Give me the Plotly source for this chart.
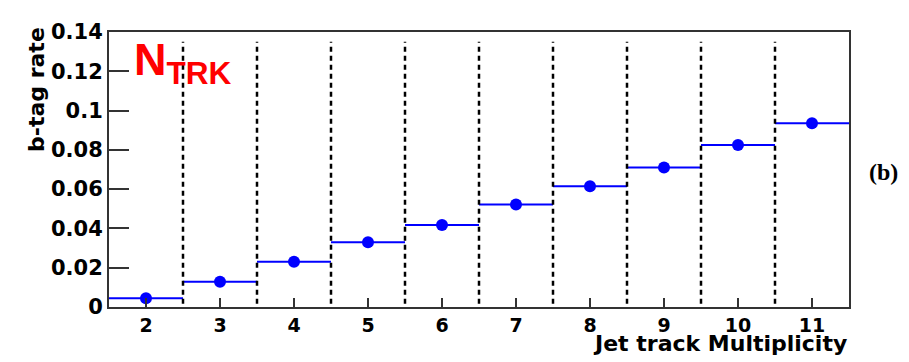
import plotly.graph_objects as go

# Data
multiplicity = [2, 3, 4, 5, 6, 7, 8, 9, 10, 11]
btag_rate = [0.0045, 0.0128, 0.0230, 0.0330, 0.0417, 0.0522, 0.0615, 0.0710, 0.0825, 0.0935]
bin_half_width = [0.5] * len(multiplicity)
y_tick_vals = [0, 0.02, 0.04, 0.06, 0.08, 0.1, 0.12, 0.14]
y_tick_text = ["0", "0.02", "0.04", "0.06", "0.08", "0.1", "0.12", "0.14"]
bin_edges = [m + 0.5 for m in multiplicity[:-1]]

fig = go.Figure()

fig.add_trace(go.Scatter(
    x=multiplicity, y=btag_rate, mode="markers",
    marker=dict(color="#0000ff", size=12),
    error_x=dict(type="data", array=bin_half_width, symmetric=True,
                 color="#0000ff", thickness=2, width=0),
    showlegend=False, hoverinfo="x+y",
))

for e in bin_edges:
    fig.add_shape(type="line", xref="x", yref="paper", x0=e, x1=e, y0=0.012, y1=0.965,
                  line=dict(color="black", width=2.5, dash="5px,4px"))

font_main = "DejaVu Sans"

# page body has an 8px margin, so the figure is sized to fill the remaining window
fig.update_layout(
    width=901, height=354,
    margin=dict(l=101, r=60, t=14, b=55),
    paper_bgcolor="white", plot_bgcolor="white",
    xaxis=dict(range=[1.5, 11.5], tickvals=multiplicity, ticks="inside", ticklen=9,
               tickwidth=2, tickcolor="#333", showgrid=False, zeroline=False,
               showline=True, linecolor="#333", linewidth=2, mirror=True,
               tickfont=dict(family=font_main, size=19, color="black", weight="bold")),
    yaxis=dict(range=[0, 0.14], tickvals=y_tick_vals, ticktext=y_tick_text,
               ticks="inside", ticklen=20, tickwidth=2, tickcolor="#333",
               showgrid=False, zeroline=False, showline=True, linecolor="#333",
               linewidth=2, mirror=True,
               tickfont=dict(family=font_main, size=21, color="black", weight="bold")),
)

fig.add_annotation(text="<b>Jet track Multiplicity</b>", xref="paper", yref="paper",
                   x=1.0, y=-0.132, xanchor="right", yanchor="middle", showarrow=False,
                   font=dict(family=font_main, size=22, color="black"))
fig.add_annotation(text="<b>b-tag rate</b>", xref="paper", yref="paper",
                   x=-0.097, y=0.79, xanchor="center", yanchor="middle", textangle=-90,
                   showarrow=False, font=dict(family=font_main, size=22, color="black"))
fig.add_annotation(text="<b>N<sub>TRK</sub></b>", xref="paper", yref="paper",
                   x=0.031, y=0.888, xanchor="left", yanchor="middle", showarrow=False,
                   font=dict(family="Liberation Sans", size=45, color="#ff0000"))
fig.add_annotation(text="<b>(b)</b>", xref="paper", yref="paper",
                   x=1.046, y=0.49, xanchor="center", yanchor="middle", showarrow=False,
                   font=dict(family="Liberation Serif", size=24, color="black"))

fig.write_html("out.html")
